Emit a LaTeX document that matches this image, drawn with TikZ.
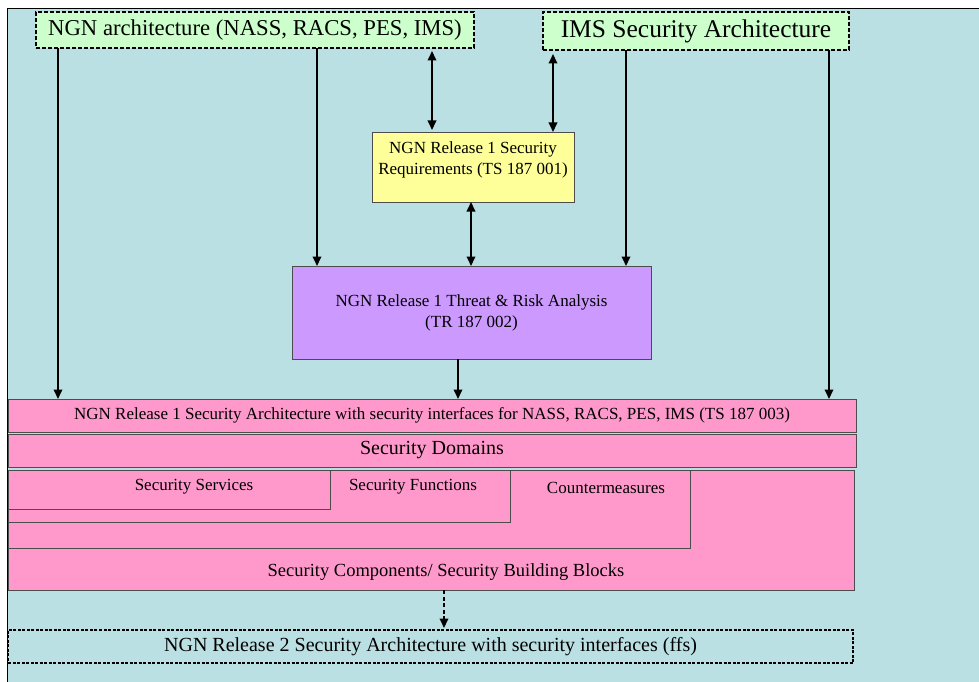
\documentclass[tikz,border=0pt]{standalone}
\usepackage{fontspec}
\setmainfont{Liberation Serif}
\usetikzlibrary{arrows.meta}
\definecolor{bgblue}{HTML}{BBE0E3}
\definecolor{lgreen}{HTML}{CCFFCC}
\definecolor{lyellow}{HTML}{FFFF99}
\definecolor{lpurple}{HTML}{CC99FF}
\definecolor{lpink}{HTML}{FF99CC}
\begin{document}
\begin{tikzpicture}[x=1pt,y=-1pt,
  corner/.style={anchor=north west, inner sep=0pt, outer sep=0pt},
  dbox/.style={corner, fill=lgreen, draw=black, line width=1.5pt, dash pattern=on 4pt off 2pt},
  sbox/.style={corner, draw=black!70, line width=0.9pt},
  pinkbox/.style={sbox, fill=lpink},
  txt/.style={inner sep=0pt, font=\fontsize{17}{21}\selectfont, align=center},
  tip/.tip={Triangle[length=9.5pt,width=8.5pt]},
  arr/.style={line width=1.8pt, -tip},
  darr/.style={line width=1.8pt, tip-tip},
  dasharr/.style={line width=1.8pt, dash pattern=on 4pt off 2.5pt, -tip}]
\useasboundingbox (0,0) rectangle (979,682);
\fill[bgblue] (7,9) rectangle (979,682);
\draw[line width=1pt] (7,682) -- (7,9) -- (979,9);

% top boxes
\node[dbox, minimum width=438pt, minimum height=36pt, font=\fontsize{22.7}{26}\selectfont] (ngn) at (36,12) {NGN architecture (NASS, RACS, PES, IMS)};
\node[dbox, minimum width=306pt, minimum height=38pt, font=\fontsize{25.5}{28}\selectfont] (ims) at (543,12) {IMS Security Architecture};

% requirements
\node[sbox, fill=lyellow, minimum width=202pt, minimum height=70pt] (req) at (372,132) {};
\node[txt] (reqt) at (473,160) {NGN Release 1 Security\\Requirements (TS 187 001)};

% threat analysis
\node[sbox, fill=lpurple, minimum width=359pt, minimum height=93pt] (tra) at (292,266) {};
\node[txt] (trat) at (471.5,313) {NGN Release 1 Threat \& Risk Analysis\\(TR 187 002)};

% release 1 architecture
\node[pinkbox, minimum width=848pt, minimum height=33pt, txt] (ts3) at (8,399) {NGN Release 1 Security Architecture with security interfaces for NASS, RACS, PES, IMS (TS 187 003)};
\node[pinkbox, minimum width=848pt, minimum height=33pt, txt, font=\fontsize{20}{24}\selectfont] (dom) at (8,434) {Security Domains};

\node[pinkbox, minimum width=846pt, minimum height=120pt] (comp) at (8,470) {};
\node[pinkbox, minimum width=682pt, minimum height=78pt] (cm) at (8,470) {};
\node[pinkbox, minimum width=502pt, minimum height=52pt] (fn) at (8,470) {};
\node[pinkbox, minimum width=322pt, minimum height=39pt] (sv) at (8,470) {};
\node[txt] (svt) at (194,487) {Security Services};
\node[txt] (fnt) at (413,487) {Security Functions};
\node[txt] (cmt) at (606,488) {Countermeasures};
\node[txt, font=\fontsize{18.5}{22}\selectfont] (compt) at (446,572) {Security Components/ Security Building Blocks};

% release 2
\node[corner, draw=black, line width=1.3pt, dash pattern=on 3pt off 1.5pt, minimum width=845pt, minimum height=33pt, txt, font=\fontsize{20}{24}\selectfont] (rel2) at (8,630) {NGN Release 2 Security Architecture with security interfaces (ffs)};

% connectors
\coordinate (n1) at ([xshift=22pt]ngn.south west);
\coordinate (n2) at ([xshift=281pt]ngn.south west);
\coordinate (n3) at ([xshift=396pt]ngn.south west);
\coordinate (i1) at ([xshift=10pt]ims.south west);
\coordinate (i2) at ([xshift=83pt]ims.south west);
\coordinate (i3) at ([xshift=286pt]ims.south west);
\coordinate (r1) at ([xshift=-2pt]req.south);
\coordinate (t1) at ([xshift=-13.5pt]tra.south);
\coordinate (c1) at ([xshift=13pt]comp.south);

\draw[arr] (n1) -- (n1 |- ts3.north);
\draw[arr] (n2) -- (n2 |- tra.north);
\draw[darr] ([yshift=-3pt]n3) -- ([yshift=2pt]n3 |- req.north);
\draw[darr] ([yshift=-4pt]i1) -- (i1 |- req.north);
\draw[arr] (i2) -- (i2 |- tra.north);
\draw[arr] (i3) -- (i3 |- ts3.north);
\draw[darr] (r1) -- (r1 |- tra.north);
\draw[arr] (t1) -- (t1 |- ts3.north);
\draw[dasharr] (c1) -- ([yshift=2pt]c1 |- rel2.north);
\end{tikzpicture}
\end{document}
